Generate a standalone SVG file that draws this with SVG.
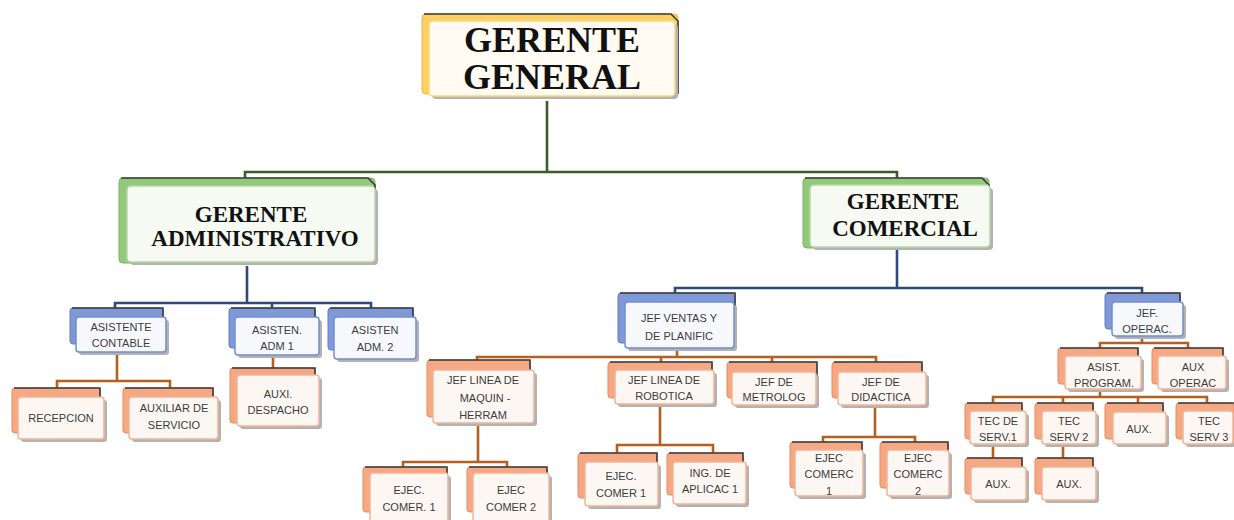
<svg xmlns="http://www.w3.org/2000/svg" width="1234" height="520" viewBox="0 0 1234 520">
<style>
.bk-y{fill:#fccf66;stroke:#f0b840;stroke-width:1}
.bk-g{fill:#93c97a;stroke:#7ab560;stroke-width:1}
.bk-b{fill:#8098d6;stroke:#5f7cc4;stroke-width:1}
.bk-o{fill:#f5a884;stroke:#e8895a;stroke-width:1}
.edge{fill:none;stroke:#3a3a3a;stroke-width:1.6}
.sh{fill:#b2b2b2}
.fr-y{fill:#fffbf2;stroke:#fbd979;stroke-width:1.5}
.fr-g{fill:#f6faf3;stroke:#b2d99e;stroke-width:1.5}
.fr-b{fill:#f7f8fc;stroke:#6f8fd8;stroke-width:1.5}
.fr-o{fill:#fdf7f3;stroke:#f3b495;stroke-width:1.5}
.h{font-family:"Liberation Serif",serif;font-weight:bold;fill:#111;text-anchor:middle}
.t{font-family:"Liberation Sans",Arial,sans-serif;font-size:11px;fill:#3c3c3c;text-anchor:middle}
.c{fill:none;stroke-width:2.6}
.cg{stroke:#3e5a2a}
.cb{stroke:#2e4a7c}
.co{stroke:#b5601e}
</style>

<g id="connectors">
<path class="c cg" d="M547 101 V172 M245 178 V172 H897 V178"/>
<path class="c cb" d="M247 266 V303 M115 308 V303 H371 V308 M272 303 V308"/>
<path class="c cb" d="M897 250 V288 M675 293 V288 H1142 V293"/>
<path class="c co" d="M117 353 V381 M57 388 V381 H170 V388"/>
<path class="c co" d="M273 358 V368"/>
<path class="c co" d="M677 350 V357 M477 360 V357 H876 V362 M661 357 V362 M772 357 V362"/>
<path class="c co" d="M478 426 V462 M403 467 V462 H507 V467"/>
<path class="c co" d="M660 407 V445 M617 453 V445 H713 V453"/>
<path class="c co" d="M875 407 V437 M823 442 V437 H915 V442"/>
<path class="c co" d="M1142 339 V343 M1100 348 V343 H1188 V348"/>
<path class="c co" d="M1100 392 V397 M993 403 V397 H1207 V403 M1063 397 V403 M1138 397 V403"/>
<path class="c co" d="M993 447 V458 M1063 447 V458"/>
</g>

<g id="gerente-general">
<rect class="bk-y" x="422" y="14" width="256" height="80" rx="4"/>
<path class="edge" d="M424 14 H671 L678 21 V94"/>
<rect class="sh" x="432" y="24" width="246" height="75" rx="4"/>
<rect class="fr-y" x="429" y="21" width="246" height="75" rx="4"/>
<text class="h" x="552" y="52" font-size="36">GERENTE</text>
<text class="h" x="552" y="89" font-size="36">GENERAL</text>
</g>

<g id="gerente-administrativo">
<rect class="bk-g" x="119" y="178" width="256" height="85" rx="4"/>
<path class="edge" d="M121 178 H368 L375 185 V263"/>
<rect class="sh" x="130" y="189" width="248" height="76" rx="4"/>
<rect class="fr-g" x="127" y="186" width="248" height="76" rx="4"/>
<text class="h" x="251" y="222" font-size="23">GERENTE</text>
<text class="h" x="255" y="246" font-size="23">ADMINISTRATIVO</text>
</g>

<g id="gerente-comercial">
<rect class="bk-g" x="803" y="178" width="186" height="70" rx="4"/>
<path class="edge" d="M805 178 H982 L989 185 V248"/>
<rect class="sh" x="813" y="188" width="180" height="62" rx="4"/>
<rect class="fr-g" x="810" y="185" width="180" height="62" rx="4"/>
<text class="h" x="903" y="209" font-size="23">GERENTE</text>
<text class="h" x="905" y="236" font-size="23">COMERCIAL</text>
</g>

<g id="asistente-contable">
<rect class="bk-b" x="70" y="308" width="93" height="36" rx="3"/>
<path class="edge" d="M72 308 H163 V344"/>
<rect class="sh" x="79" y="320" width="90" height="35" rx="3"/>
<rect class="fr-b" x="76" y="317" width="90" height="35" rx="3"/>
<text class="t" x="121" y="331">ASISTENTE</text>
<text class="t" x="121" y="347">CONTABLE</text>
</g>

<g id="asisten-adm1">
<rect class="bk-b" x="229" y="308" width="86" height="40" rx="3"/>
<path class="edge" d="M231 308 H315 V348"/>
<rect class="sh" x="238" y="320" width="84" height="38" rx="3"/>
<rect class="fr-b" x="235" y="317" width="84" height="38" rx="3"/>
<text class="t" x="277" y="334">ASISTEN.</text>
<text class="t" x="277" y="350">ADM 1</text>
</g>

<g id="asisten-adm2">
<rect class="bk-b" x="328" y="308" width="85" height="42" rx="3"/>
<path class="edge" d="M330 308 H413 V350"/>
<rect class="sh" x="337" y="320" width="82" height="42" rx="3"/>
<rect class="fr-b" x="334" y="317" width="82" height="42" rx="3"/>
<text class="t" x="375" y="334">ASISTEN</text>
<text class="t" x="375" y="351">ADM. 2</text>
</g>

<g id="recepcion">
<rect class="bk-o" x="12" y="388" width="88" height="45" rx="3"/>
<path class="edge" d="M14 388 H100 V433"/>
<rect class="sh" x="21" y="400" width="86" height="42" rx="3"/>
<rect class="fr-o" x="18" y="397" width="86" height="42" rx="3"/>
<text class="t" x="61" y="422">RECEPCION</text>
</g>

<g id="auxiliar-servicio">
<rect class="bk-o" x="123" y="388" width="90" height="45" rx="3"/>
<path class="edge" d="M125 388 H213 V433"/>
<rect class="sh" x="132" y="400" width="89" height="42" rx="3"/>
<rect class="fr-o" x="129" y="397" width="89" height="42" rx="3"/>
<text class="t" x="174" y="412">AUXILIAR  DE</text>
<text class="t" x="174" y="429">SERVICIO</text>
</g>

<g id="auxi-despacho">
<rect class="bk-o" x="230" y="368" width="85" height="55" rx="3"/>
<path class="edge" d="M232 368 H315 V423"/>
<rect class="sh" x="240" y="378" width="82" height="51" rx="3"/>
<rect class="fr-o" x="237" y="375" width="82" height="51" rx="3"/>
<text class="t" x="278" y="398">AUXI.</text>
<text class="t" x="278" y="414">DESPACHO</text>
</g>

<g id="jef-ventas">
<rect class="bk-b" x="618" y="293" width="117" height="50" rx="3"/>
<path class="edge" d="M620 293 H735 V343"/>
<rect class="sh" x="628" y="305" width="109" height="46" rx="3"/>
<rect class="fr-b" x="625" y="302" width="109" height="46" rx="3"/>
<text class="t" x="679" y="322">JEF  VENTAS Y</text>
<text class="t" x="679" y="340">DE PLANIFIC</text>
</g>

<g id="jef-linea-maquin">
<rect class="bk-o" x="427" y="360" width="103" height="57" rx="3"/>
<path class="edge" d="M429 360 H530 V417"/>
<rect class="sh" x="436" y="373" width="101" height="53" rx="3"/>
<rect class="fr-o" x="433" y="370" width="101" height="53" rx="3"/>
<text class="t" x="483" y="384">JEF  LINEA  DE</text>
<text class="t" x="485" y="402">MAQUIN  -</text>
<text class="t" x="483" y="419">HERRAM</text>
</g>

<g id="jef-linea-robotica">
<rect class="bk-o" x="608" y="362" width="104" height="36" rx="3"/>
<path class="edge" d="M610 362 H712 V398"/>
<rect class="sh" x="618" y="373" width="99" height="34" rx="3"/>
<rect class="fr-o" x="615" y="370" width="99" height="34" rx="3"/>
<text class="t" x="664" y="384">JEF LINEA  DE</text>
<text class="t" x="664" y="400">ROBOTICA</text>
</g>

<g id="jef-metrolog">
<rect class="bk-o" x="727" y="362" width="90" height="36" rx="3"/>
<path class="edge" d="M729 362 H817 V398"/>
<rect class="sh" x="735" y="375" width="84" height="33" rx="3"/>
<rect class="fr-o" x="732" y="372" width="84" height="33" rx="3"/>
<text class="t" x="774" y="386">JEF DE</text>
<text class="t" x="774" y="401">METROLOG</text>
</g>

<g id="jef-didactica">
<rect class="bk-o" x="832" y="362" width="90" height="36" rx="3"/>
<path class="edge" d="M834 362 H922 V398"/>
<rect class="sh" x="841" y="375" width="88" height="33" rx="3"/>
<rect class="fr-o" x="838" y="372" width="88" height="33" rx="3"/>
<text class="t" x="881" y="386">JEF DE</text>
<text class="t" x="881" y="401">DIDACTICA</text>
</g>

<g id="ejec-comer-1a">
<rect class="bk-o" x="363" y="467" width="84" height="45" rx="3"/>
<path class="edge" d="M365 467 H447 V512"/>
<rect class="sh" x="373" y="476" width="78" height="50" rx="3"/>
<rect class="fr-o" x="370" y="473" width="78" height="50" rx="3"/>
<text class="t" x="409" y="494">EJEC.</text>
<text class="t" x="409" y="511">COMER.  1</text>
</g>

<g id="ejec-comer-2a">
<rect class="bk-o" x="467" y="467" width="80" height="45" rx="3"/>
<path class="edge" d="M469 467 H547 V512"/>
<rect class="sh" x="476" y="476" width="76" height="50" rx="3"/>
<rect class="fr-o" x="473" y="473" width="76" height="50" rx="3"/>
<text class="t" x="511" y="494">EJEC</text>
<text class="t" x="511" y="511">COMER  2</text>
</g>

<g id="ejec-comer-1b">
<rect class="bk-o" x="578" y="453" width="79" height="45" rx="3"/>
<path class="edge" d="M580 453 H657 V498"/>
<rect class="sh" x="588" y="465" width="73" height="44" rx="3"/>
<rect class="fr-o" x="585" y="462" width="73" height="44" rx="3"/>
<text class="t" x="621" y="480">EJEC.</text>
<text class="t" x="621" y="497">COMER 1</text>
</g>

<g id="ing-aplicac">
<rect class="bk-o" x="667" y="453" width="76" height="42" rx="3"/>
<path class="edge" d="M669 453 H743 V495"/>
<rect class="sh" x="676" y="465" width="73" height="42" rx="3"/>
<rect class="fr-o" x="673" y="462" width="73" height="42" rx="3"/>
<text class="t" x="710" y="477">ING.  DE</text>
<text class="t" x="710" y="493">APLICAC 1</text>
</g>

<g id="ejec-comerc-1">
<rect class="bk-o" x="790" y="442" width="72" height="46" rx="3"/>
<path class="edge" d="M792 442 H862 V488"/>
<rect class="sh" x="798" y="453" width="68" height="46" rx="3"/>
<rect class="fr-o" x="795" y="450" width="68" height="46" rx="3"/>
<text class="t" x="829" y="462">EJEC</text>
<text class="t" x="829" y="478">COMERC</text>
<text class="t" x="829" y="495">1</text>
</g>

<g id="ejec-comerc-2">
<rect class="bk-o" x="880" y="442" width="68" height="46" rx="3"/>
<path class="edge" d="M882 442 H948 V488"/>
<rect class="sh" x="890" y="453" width="62" height="46" rx="3"/>
<rect class="fr-o" x="887" y="450" width="62" height="46" rx="3"/>
<text class="t" x="918" y="462">EJEC</text>
<text class="t" x="918" y="478">COMERC</text>
<text class="t" x="918" y="495">2</text>
</g>

<g id="jef-operac">
<rect class="bk-b" x="1105" y="293" width="75" height="36" rx="3"/>
<path class="edge" d="M1107 293 H1180 V329"/>
<rect class="sh" x="1115" y="305" width="71" height="34" rx="3"/>
<rect class="fr-b" x="1112" y="302" width="71" height="34" rx="3"/>
<text class="t" x="1147" y="317">JEF.</text>
<text class="t" x="1147" y="333">OPERAC.</text>
</g>

<g id="asist-program">
<rect class="bk-o" x="1058" y="348" width="80" height="36" rx="3"/>
<path class="edge" d="M1060 348 H1138 V384"/>
<rect class="sh" x="1068" y="359" width="76" height="33" rx="3"/>
<rect class="fr-o" x="1065" y="356" width="76" height="33" rx="3"/>
<text class="t" x="1104" y="371">ASIST.</text>
<text class="t" x="1104" y="387">PROGRAM.</text>
</g>

<g id="aux-operac">
<rect class="bk-o" x="1152" y="348" width="71" height="36" rx="3"/>
<path class="edge" d="M1154 348 H1223 V384"/>
<rect class="sh" x="1161" y="359" width="68" height="33" rx="3"/>
<rect class="fr-o" x="1158" y="356" width="68" height="33" rx="3"/>
<text class="t" x="1193" y="371">AUX</text>
<text class="t" x="1193" y="387">OPERAC</text>
</g>

<g id="tec-serv-1">
<rect class="bk-o" x="965" y="403" width="57" height="36" rx="3"/>
<path class="edge" d="M967 403 H1022 V439"/>
<rect class="sh" x="973" y="414" width="56" height="33" rx="3"/>
<rect class="fr-o" x="970" y="411" width="56" height="33" rx="3"/>
<text class="t" x="998" y="425">TEC DE</text>
<text class="t" x="998" y="441">SERV.1</text>
</g>

<g id="tec-serv-2">
<rect class="bk-o" x="1035" y="403" width="58" height="36" rx="3"/>
<path class="edge" d="M1037 403 H1093 V439"/>
<rect class="sh" x="1045" y="414" width="54" height="33" rx="3"/>
<rect class="fr-o" x="1042" y="411" width="54" height="33" rx="3"/>
<text class="t" x="1069" y="425">TEC</text>
<text class="t" x="1069" y="441">SERV 2</text>
</g>

<g id="aux-1">
<rect class="bk-o" x="1105" y="403" width="58" height="36" rx="3"/>
<path class="edge" d="M1107 403 H1163 V439"/>
<rect class="sh" x="1116" y="415" width="53" height="32" rx="3"/>
<rect class="fr-o" x="1113" y="412" width="53" height="32" rx="3"/>
<text class="t" x="1139" y="433">AUX.</text>
</g>

<g id="tec-serv-3">
<rect class="bk-o" x="1176" y="403" width="58" height="36" rx="3"/>
<path class="edge" d="M1178 403 H1234"/>
<rect class="sh" x="1186" y="414" width="50" height="33" rx="3"/>
<rect class="fr-o" x="1183" y="411" width="50" height="33" rx="3"/>
<text class="t" x="1209" y="425">TEC</text>
<text class="t" x="1209" y="441">SERV 3</text>
</g>

<g id="aux-2">
<rect class="bk-o" x="965" y="458" width="57" height="36" rx="3"/>
<path class="edge" d="M967 458 H1022 V494"/>
<rect class="sh" x="974" y="470" width="55" height="33" rx="3"/>
<rect class="fr-o" x="971" y="467" width="55" height="33" rx="3"/>
<text class="t" x="998" y="488">AUX.</text>
</g>

<g id="aux-3">
<rect class="bk-o" x="1035" y="458" width="58" height="36" rx="3"/>
<path class="edge" d="M1037 458 H1093 V494"/>
<rect class="sh" x="1045" y="470" width="54" height="33" rx="3"/>
<rect class="fr-o" x="1042" y="467" width="54" height="33" rx="3"/>
<text class="t" x="1069" y="488">AUX.</text>
</g>
</svg>
